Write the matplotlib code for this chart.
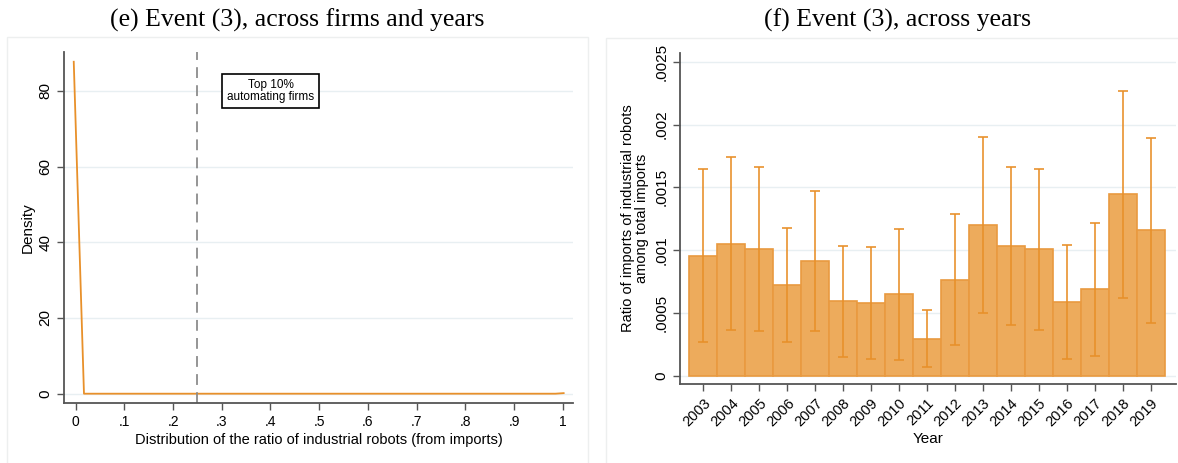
import numpy as np
import matplotlib
matplotlib.use('Agg')
import matplotlib.pyplot as plt
from matplotlib.patches import Rectangle

plt.rcParams['font.family'] = ['Liberation Sans', 'DejaVu Sans']

# panel (e): density of the ratio of industrial robots across firms and years
density_x = [-0.004, 0.017, 0.5, 0.985, 1.002]
density_y = [87.7, 0.0, 0.0, 0.0, 0.15]
top10_cutoff = 0.25
e_xticks = [0, .1, .2, .3, .4, .5, .6, .7, .8, .9, 1]
e_xticklabels = ['0', '.1', '.2', '.3', '.4', '.5', '.6', '.7', '.8', '.9', '1']
e_yticks = [0, 20, 40, 60, 80]

# panel (f): mean ratio by year with confidence intervals
years = list(range(2003, 2020))
ratio_mean = [0.953, 1.046, 1.006, 0.722, 0.913, 0.595, 0.579, 0.648, 0.292,
              0.759, 1.197, 1.033, 1.006, 0.587, 0.688, 1.444, 1.158]
ci_low = [0.266, 0.361, 0.356, 0.266, 0.358, 0.151, 0.133, 0.127, 0.067,
          0.242, 0.497, 0.404, 0.364, 0.135, 0.157, 0.616, 0.420]
ci_high = [1.646, 1.739, 1.662, 1.178, 1.473, 1.035, 1.025, 1.168, 0.526,
           1.285, 1.900, 1.659, 1.648, 1.038, 1.218, 2.267, 1.893]
f_yticks = [0, .0005, .001, .0015, .002, .0025]
f_yticklabels = ['0', '.0005', '.001', '.0015', '.002', '.0025']

ratio_mean = np.array(ratio_mean) / 1000
ci_low = np.array(ci_low) / 1000
ci_high = np.array(ci_high) / 1000

orange_line = '#E8902A'
bar_face = '#EDAB5C'
bar_edge = '#E99A40'
grid_col = '#E8EFF2'
spine_col = '#555555'
title_font = ['Liberation Serif', 'DejaVu Serif']

fig = plt.figure(figsize=(11.78, 4.63), dpi=100)

# faint panel frames like the Stata graph region
fig.patches.append(Rectangle((7 / 1178, -0.01), 581 / 1178, 1 - 37 / 463 + 0.01,
                             transform=fig.transFigure, fill=False,
                             edgecolor='#EDEFEF', lw=1))
fig.patches.append(Rectangle((606 / 1178, -0.01), 600 / 1178, 1 - 37.5 / 463 + 0.01,
                             transform=fig.transFigure, fill=False,
                             edgecolor='#EDEFEF', lw=1))

fig.text(297.5 / 1178, 1 - 26.7 / 463, '(e) Event (3), across firms and years',
         ha='center', va='baseline', fontsize=18.5, family=title_font)
fig.text(897.5 / 1178, 1 - 26.7 / 463, '(f) Event (3), across years',
         ha='center', va='baseline', fontsize=18.5, family=title_font)


def style_axes(ax):
    for side in ['top', 'right']:
        ax.spines[side].set_visible(False)
    for side in ['left', 'bottom']:
        ax.spines[side].set_color(spine_col)
        ax.spines[side].set_linewidth(1.3)
    ax.tick_params(direction='out', length=5, width=1, color=spine_col)
    ax.yaxis.grid(True, color=grid_col, lw=1)
    ax.set_axisbelow(True)


# ---- left panel
ax1 = fig.add_axes([64.3 / 1178, 1 - 402.7 / 463, 509 / 1178, 350.4 / 463])
style_axes(ax1)
ax1.plot(density_x, density_y, color=orange_line, lw=1.3)
ax1.axvline(top10_cutoff, color='#8C8C8C', lw=1.3, dashes=(6, 4))
ax1.text(0.4, 80, 'Top 10%\nautomating firms', ha='center', va='center',
         fontsize=8.5, linespacing=1.0,
         bbox=dict(boxstyle='square,pad=0.4', fc='white', ec='black', lw=1.2))
ax1.set_xlim(-0.0234, 1.0218)
ax1.set_ylim(-2.38, 90.2)
ax1.set_xticks(e_xticks)
ax1.set_xticklabels(e_xticklabels, fontsize=10)
ax1.set_yticks(e_yticks)
ax1.set_yticklabels([str(v) for v in e_yticks], fontsize=11, rotation=90, va='center')
ax1.set_xlabel('Distribution of the ratio of industrial robots (from imports)',
               fontsize=10.5, labelpad=3)
ax1.set_ylabel('Density', fontsize=11, labelpad=3)

# ---- right panel
ax2 = fig.add_axes([680 / 1178, 1 - 384.3 / 463, 496 / 1178, 331.6 / 463])
style_axes(ax2)
ax2.bar(years, ratio_mean, width=1.0, color=bar_face, edgecolor=bar_edge, lw=1.2)
ax2.errorbar(years, ratio_mean, yerr=[ratio_mean - ci_low, ci_high - ratio_mean],
             fmt='none', ecolor=orange_line, elinewidth=1.3, capsize=3.5,
             capthick=1.3, alpha=0.9)
ax2.set_xlim(2002.167, 2019.906)
ax2.set_ylim(-0.0000685, 0.002572)
ax2.set_xticks(years)
ax2.set_xticklabels([str(y) for y in years], fontsize=10.5, rotation=45,
                    ha='right', rotation_mode='anchor')
ax2.set_yticks(f_yticks)
ax2.set_yticklabels(f_yticklabels, fontsize=11, rotation=90, va='center')
ax2.set_xlabel('Year', fontsize=11, labelpad=2)
ax2.set_ylabel('Ratio of imports of industrial robots\namong total imports',
               fontsize=10.5, labelpad=4, linespacing=1.0)

fig.savefig('out.png', dpi=100)
